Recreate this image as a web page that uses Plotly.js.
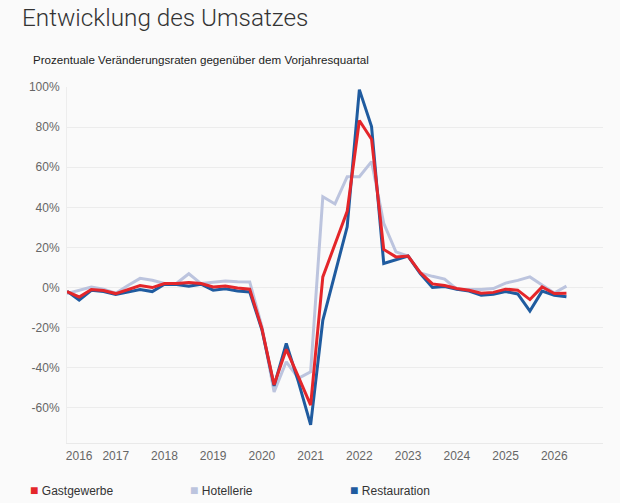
<!DOCTYPE html>
<html>
<head>
<meta charset="utf-8">
<script src="https://cdn.plot.ly/plotly-3.0.1.min.js"></script>
<style>
  html, body { margin: 0; padding: 0; background: #fafafa; }
  #chart { width: 620px; height: 503px; }
</style>
</head>
<body>
<div id="chart"></div>
<script>
// ---- data ----
const quarters = [
  '2016 Q1','2016 Q2','2016 Q3','2016 Q4',
  '2017 Q1','2017 Q2','2017 Q3','2017 Q4',
  '2018 Q1','2018 Q2','2018 Q3','2018 Q4',
  '2019 Q1','2019 Q2','2019 Q3','2019 Q4',
  '2020 Q1','2020 Q2','2020 Q3','2020 Q4',
  '2021 Q1','2021 Q2','2021 Q3','2021 Q4',
  '2022 Q1','2022 Q2','2022 Q3','2022 Q4',
  '2023 Q1','2023 Q2','2023 Q3','2023 Q4',
  '2024 Q1','2024 Q2','2024 Q3','2024 Q4',
  '2025 Q1','2025 Q2','2025 Q3','2025 Q4',
  '2026 Q1','2026 Q2'
];
const gastgewerbe = [
  -2.0, -4.7, -1.0, -1.5,
  -3.0, -1.0,  1.0,  0.0,
   2.0,  2.0,  2.5,  2.0,
   0.3,  0.8, -0.2, -0.8,
  -20.5, -48.5, -30.8, -44.5,
  -58.6,  5.3, 21.2, 38.0,
   83.3, 74.0, 19.0, 15.3,
   15.7,  7.5,  1.8,  1.0,
  -0.5, -1.3, -2.8, -2.4,
  -0.8, -1.3, -6.0,  0.3,
  -3.0, -2.8
];
const hotellerie = [
  -3.0, -1.5,  0.3, -0.8,
  -2.8,  1.0,  4.6,  3.6,
   2.0,  2.2,  6.9,  2.0,
   2.7,  3.3,  2.9,  2.8,
  -19.5, -52.0, -37.0, -45.3,
  -42.0, 45.3, 41.7, 55.3,
   55.3, 62.8, 32.0, 17.8,
   15.7,  7.3,  5.6,  4.2,
  -0.8, -1.0, -1.0, -0.5,
   2.2,  3.6,  5.3,  1.3,
  -2.7,  0.7
];
const restauration = [
  -1.8, -6.2, -1.4, -2.0,
  -3.4, -2.3, -1.0, -2.0,
   1.7,  1.5,  0.7,  1.7,
  -1.3, -0.6, -1.7, -2.2,
  -21.0, -49.0, -27.9, -47.0,
  -68.5, -16.3,  7.0, 30.3,
   98.7, 80.3, 12.0, 13.7,
   15.7,  7.0,  0.0,  0.5,
  -0.8, -1.7, -3.8, -3.3,
  -2.0, -3.2, -11.7, -1.8,
  -3.8, -4.6
];
const yearLabels = ['2016','2017','2018','2019','2020','2021','2022','2023','2024','2025','2026'];
const yTickValues = [-60, -40, -20, 0, 20, 40, 60, 80, 100];
const seriesNames = ['Gastgewerbe', 'Hotellerie', 'Restauration'];

// ---- styling ----
const colors = {
  Gastgewerbe: '#e4262a',
  Hotellerie: '#bcc4de',
  Restauration: '#1f5b9f'
};
const bg = '#fafafa';

// quarter label -> decimal year position on the axis
const x = quarters.map(q => Number(q.slice(0, 4)) + (Number(q.slice(-1)) - 1) / 4);

function lineTrace(name, values) {
  return {
    type: 'scatter', mode: 'lines', name: name, x: x, y: values,
    showlegend: false, hoverinfo: 'skip',
    line: { color: colors[name], width: 3 }
  };
}
function legendTrace(name) {
  return {
    type: 'scatter', mode: 'none', x: [null], y: [null],
    name: '<span style="color:' + colors[name] + ';font-size:14px">■</span> ' + name,
    showlegend: true, hoverinfo: 'skip'
  };
}

const traces = [
  lineTrace('Hotellerie', hotellerie),
  lineTrace('Restauration', restauration),
  lineTrace('Gastgewerbe', gastgewerbe)
].concat(seriesNames.map(legendTrace));

// first year label is nudged inside the plot, as in the reference
const tickPositions = yearLabels.map((y, i) => i === 0 ? Number(y) + 0.25 : Number(y));

const layout = {
  width: 620, height: 503,
  paper_bgcolor: bg, plot_bgcolor: bg,
  margin: { l: 67, r: 17, t: 86.5, b: 60, autoexpand: false },
  font: { family: '"Liberation Sans", Arial, sans-serif', size: 12, color: '#666' },
  title: {
    text: 'Entwicklung des Umsatzes',
    font: { family: 'Roboto, Inter, sans-serif', size: 24.3, weight: 300, color: '#333' },
    xref: 'container', x: 22 / 620, xanchor: 'left',
    yref: 'container', y: 1 - 17 / 503, yanchor: 'middle'
  },
  xaxis: {
    range: [2016, 2027],
    tickmode: 'array', tickvals: tickPositions, ticktext: yearLabels,
    showgrid: false, zeroline: false,
    showline: true, linecolor: '#e9e9e9', linewidth: 1,
    ticks: 'outside', ticklen: 2, tickcolor: 'rgba(0,0,0,0)',
    tickfont: { size: 12, color: '#666' },
    fixedrange: true
  },
  yaxis: {
    range: [-77.5, 100],
    tickmode: 'array', tickvals: yTickValues, ticktext: yTickValues.map(v => v + '%'),
    showgrid: true, gridcolor: '#ececec', gridwidth: 1,
    zeroline: false,
    showline: true, linecolor: '#ededed', linewidth: 1,
    ticks: 'outside', ticklen: 4, tickcolor: 'rgba(0,0,0,0)',
    tickfont: { size: 12, color: '#666' },
    fixedrange: true
  },
  shapes: [
    { type: 'line', xref: 'paper', x0: 0, x1: 1, yref: 'y', y0: 0, y1: 0,
      line: { color: bg, width: 2 }, layer: 'between' },
    { type: 'line', xref: 'paper', x0: 0, x1: 1, yref: 'y', y0: 0, y1: 0,
      line: { color: '#dadada', width: 1, dash: '4px,3px' }, layer: 'between' }
  ],
  annotations: [{
    text: 'Prozentuale Veränderungsraten gegenüber dem Vorjahresquartal',
    xref: 'paper', x: (31 - 67) / 536, xanchor: 'left',
    yref: 'paper', y: (443 - 59) / 356.5, yanchor: 'middle',
    showarrow: false,
    font: { size: 11.6, color: '#222' }
  }],
  showlegend: true,
  legend: {
    orientation: 'h',
    xref: 'paper', x: (-10 - 67) / 536, xanchor: 'left',
    yref: 'paper', y: (443 - 490) / 356.5, yanchor: 'middle',
    entrywidth: 115, entrywidthmode: 'pixels',
    font: { size: 12, color: '#333' },
    bgcolor: 'rgba(0,0,0,0)',
    itemclick: false, itemdoubleclick: false
  },
  hovermode: false
};

Plotly.newPlot('chart', traces, layout, { displayModeBar: false, staticPlot: true });
</script>
</body>
</html>
